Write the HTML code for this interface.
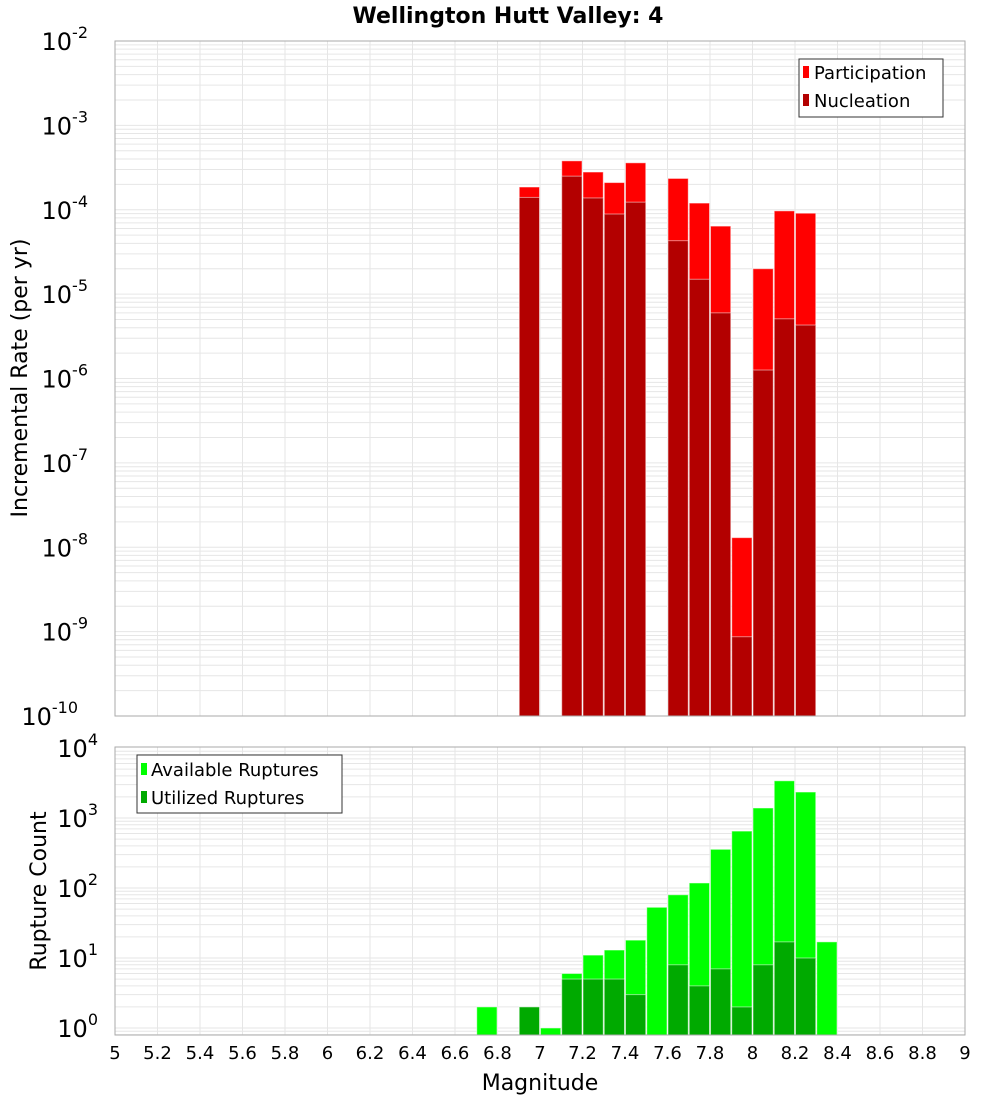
<!DOCTYPE html>
<html><head><meta charset="utf-8"><style>
body{margin:0;background:#fff;font-family:"Liberation Sans","DejaVu Sans",sans-serif}
svg text{font-family:"DejaVu Sans","Liberation Sans",sans-serif}
</style></head><body>
<svg id="chart" width="1000" height="1100" xmlns="http://www.w3.org/2000/svg">
<rect width="1000" height="1100" fill="#fff"/>
<text x="508" y="23" font-size="22" font-weight="bold" text-anchor="middle">Wellington Hutt Valley: 4</text>
<g id="top"></g><g id="bot"></g>
<text transform="translate(27,378) rotate(-90)" font-size="22" text-anchor="middle">Incremental Rate (per yr)</text>
<text transform="translate(46,891) rotate(-90)" font-size="22" text-anchor="middle">Rupture Count</text>
<text x="540" y="1090" font-size="22" text-anchor="middle">Magnitude</text>
<g>
<rect x="799" y="59" width="144" height="58" fill="#fff" stroke="#333"/>
<rect x="803" y="66" width="6" height="12" fill="#ff0000"/><text x="814" y="79" font-size="18">Participation</text>
<rect x="803" y="94" width="6" height="12" fill="#b30000"/><text x="814" y="107" font-size="18">Nucleation</text>
</g>
<g>
<rect x="137" y="755" width="205" height="58" fill="#fff" stroke="#333"/>
<rect x="141" y="763" width="6" height="12" fill="#00ff00"/><text x="151" y="776" font-size="18">Available Ruptures</text>
<rect x="141" y="791" width="6" height="12" fill="#00aa00"/><text x="151" y="804" font-size="18">Utilized Ruptures</text>
</g>
</svg>
<script>
const mags=[6.75,6.95,7.05,7.15,7.25,7.35,7.45,7.55,7.65,7.75,7.85,7.95,8.05,8.15,8.25,8.35];
const participation=[0,1.86e-4,0,3.8e-4,2.8e-4,2.1e-4,3.6e-4,0,2.35e-4,1.2e-4,6.4e-5,1.3e-8,2.0e-5,9.7e-5,9.1e-5,0];
const nucleation=[0,1.4e-4,0,2.5e-4,1.38e-4,8.9e-5,1.23e-4,0,4.3e-5,1.5e-5,6e-6,8.7e-10,1.26e-6,5.1e-6,4.3e-6,0];
const available=[2,2,1,6,11,13,18,53,80,118,357,650,1390,3400,2350,17];
const utilized=[0,2,0,5,5,5,3,0,8,4,7,2,8,17,10,0];
const xTicks=[5,5.2,5.4,5.6,5.8,6,6.2,6.4,6.6,6.8,7,7.2,7.4,7.6,7.8,8,8.2,8.4,8.6,8.8,9];
const topExps=[-2,-3,-4,-5,-6,-7,-8,-9,-10];
const botExps=[4,3,2,1,0];
const NS="http://www.w3.org/2000/svg";
const X0=115,X1=965;
const x=m=>X0+(m-5)/4*(X1-X0);
const yTop=v=>41+(-2-Math.log10(v))*84.375;
const yBot=v=>1028-Math.log10(v)*70;
function mk(p,tag,a){const e=document.createElementNS(NS,tag);for(const k in a)e.setAttribute(k,a[k]);p.appendChild(e);return e;}
function frame(g,top,bot,yf,lo,hi,name){
  for(let d=lo;d<hi;d++)for(let k=1;k<10;k++){const y=yf(k*Math.pow(10,d));if(y<top||y>bot)continue;
    const l=mk(g,'line',{x1:X0,x2:X1,y1:y,y2:y,stroke:'#e6e6e6','stroke-width':1});
    }
  xTicks.forEach(t=>{const l=mk(g,'line',{x1:x(t),x2:x(t),y1:top,y2:bot,stroke:'#e6e6e6'});
    });
}
const gt=document.getElementById('top'),gb=document.getElementById('bot');
frame(gt,41,716,yTop,-10,-2,'top');
frame(gb,747,1035,yBot,-1,4,'bottom');
function bars(g,vals,yf,base,fill,name){
  vals.forEach((v,i)=>{if(!(v>0))return;const y=yf(v);
    const r=mk(g,'rect',{x:x(mags[i]-0.05)+0.5,y:y,width:x(5.1)-x(5)-1,height:base-y,fill:fill,stroke:'#fff','stroke-opacity':0.5,'stroke-width':1});
    });
}
bars(gt,participation,yTop,716,'#ff0000','participation-bar');
bars(gt,nucleation,yTop,716,'#b30000','nucleation-bar');
bars(gb,available,yBot,1035,'#00ff00','available-bar');
bars(gb,utilized,yBot,1035,'#00aa00','utilized-bar');
const a1=mk(gt,'rect',{x:X0,y:41,width:X1-X0,height:675,fill:'none',stroke:'#aaa'});

const a2=mk(gb,'rect',{x:X0,y:747,width:X1-X0,height:288,fill:'none',stroke:'#aaa'});

function ylab(g,e,y,name){const t=mk(g,'text',{x:108,y:y+9,'font-size':24,'text-anchor':'end'});
  
  t.textContent='10';const s=document.createElementNS(NS,'tspan');s.setAttribute('dy','-12');s.setAttribute('font-size','16');s.textContent=e;t.appendChild(s);
  t.setAttribute('x',108-(String(e).length*10));}
topExps.forEach(e=>ylab(gt,e,yTop(Math.pow(10,e)),'top-y-tick-label'));
botExps.forEach(e=>ylab(gb,e,yBot(Math.pow(10,e)),'bottom-y-tick-label'));
xTicks.forEach(t=>{const l=mk(gb,'text',{x:x(t),y:1059,'font-size':18,'text-anchor':'middle'});
  
  l.textContent=String(Math.round(t*10)/10);});
</script>
</body></html>
